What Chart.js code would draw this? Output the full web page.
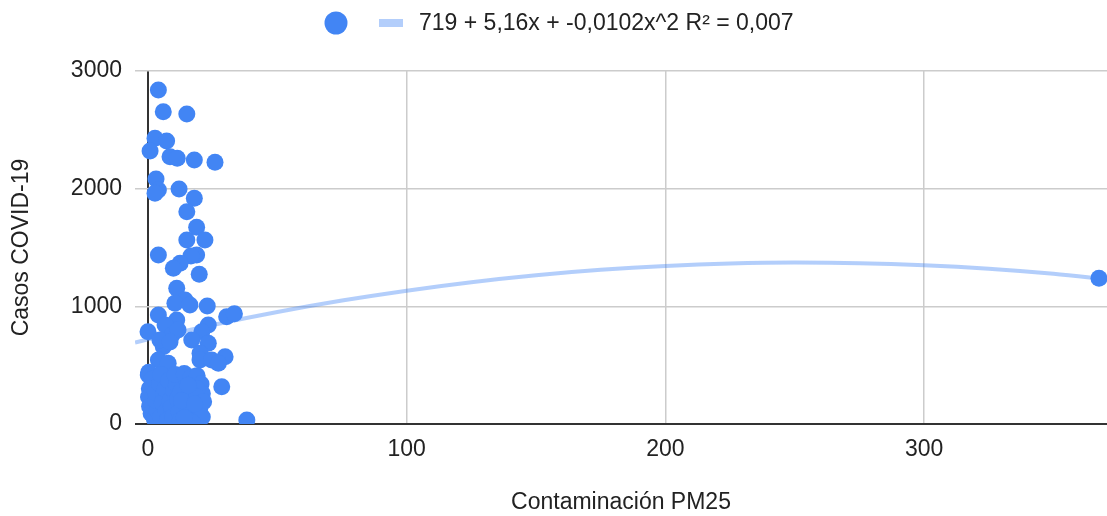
<!DOCTYPE html>
<html>
<head>
<meta charset="utf-8">
<script src="https://cdn.jsdelivr.net/npm/chart.js@4"></script>
<style>
  html, body { margin: 0; padding: 0; background: #fff; }
  #wrap { width: 1107px; height: 516px; }
</style>
</head>
<body>
<div id="wrap"><canvas id="myChart" width="1107" height="516"></canvas></div>
<script>
// PM2.5 vs COVID-19 cases
const pm25 = [
  4.0, 5.9, 15.0, 2.7, 7.2, 0.8, 8.5, 11.3, 17.9, 25.9,
  3.1, 4.0, 2.7, 12.0, 17.9, 15.0, 18.8, 15.0, 22.0, 4.0,
  18.8, 16.6, 12.4, 9.8, 19.8, 11.1, 14.3, 10.4, 16.2, 22.9,
  4.0, 11.1, 30.4, 33.4, 0, 23.3, 20.8, 16.9, 23.3, 5.9,
  4.0, 7.8, 20.1, 20.1, 24.6, 29.8, 27.2, 0.1, 5.9, 17.5,
  13.6, 28.5, 38.2, 6.6, 9.3, 4.6, 11.6, 8.5,
  0.3, 1.5, 0.5, 0.2, 0.6, 1.2, 2.5, 3.5, 3.0, 2.8,
  4.5, 5.0, 6.0, 5.5, 5.0, 7.0, 6.5, 8.0, 8.5, 7.5,
  9.0, 9.5, 10.0, 11.0, 11.5, 12.0, 12.5, 10.5,
  14.0, 16.5, 19.0, 20.5, 21.0, 19.0, 18.5, 15.0, 12.5, 16.0,
  18.5, 20.0, 21.5, 21.0, 17.0, 14.0, 13.0, 18.0, 15.5,
  367.6
];
const casos = [
  2838, 2654, 2634, 2428, 2405, 2320, 2272, 2258, 2244, 2224,
  2082, 1989, 1961, 1997, 1918, 1804, 1672, 1564, 1564, 1436,
  1436, 1428, 1366, 1323, 1272, 1153, 1054, 1026, 1011, 1003,
  926, 884, 912, 937, 784, 841, 784, 714, 686, 657,
  544, 516, 601, 544, 544, 572, 516, 416, 402, 402,
  359, 317, 34, 841, 756, 714, 799, 697,
  440, 380, 300, 230, 150, 90, 40, 120, 200, 270,
  340, 420, 250, 180, 60, 110, 300, 370, 200, 30,
  140, 60, 280, 340, 210, 100, 30, 420,
  430, 390, 410, 340, 260, 300, 235, 160, 270, 90,
  40, 130, 190, 60, 15, 50, 200, 170, 330,
  1238
];

// trendline values
const trendX = [-5, 0, 25, 50, 75, 100, 125, 150, 175, 200, 225, 250, 275, 300, 325, 350, 371];
const trendY = [693, 719, 842, 952, 1049, 1133, 1205, 1264, 1310, 1343, 1364, 1372, 1367, 1349, 1319, 1276, 1229];

const xTicks = [0, 100, 200, 300];
const yTicks = [0, 1000, 2000, 3000];
const trendLabel = "719 + 5,16x + -0,0102x^2 R\u00B2 = 0,007";

const blue = "#4285F4";
const blueLight = "rgba(66, 133, 244, 0.4)";
const textColor = "#222";
const fontFamily = "Arial, 'Liberation Sans', sans-serif";
const fontSize = 23;

const points = pm25.map((x, i) => ({ x, y: casos[i] }));
const trend = trendX.map((x, i) => ({ x, y: trendY[i] }));

// draws the top legend (circle, swatch, equation)
const topLegend = {
  id: "topLegend",
  afterDraw(chart) {
    const c = chart.ctx;
    const cy = 23;
    c.save();
    c.fillStyle = blue;
    c.beginPath();
    c.arc(336, cy, 11.5, 0, Math.PI * 2);
    c.fill();
    c.fillStyle = blueLight;
    c.fillRect(379, cy - 4, 24, 8);
    c.fillStyle = textColor;
    c.font = fontSize + "px " + fontFamily;
    c.textBaseline = "middle";
    c.textAlign = "left";
    c.fillText(trendLabel, 419, cy + 1);
    c.restore();
  },
};

const gridColor = (ctx) => (ctx.tick && ctx.tick.value === 0 ? "#333" : "#ccc");
const gridWidth = (ctx) => (ctx.tick && ctx.tick.value === 0 ? 2 : 1.5);

const ctx = document.getElementById("myChart");
const myChart = new Chart(ctx, {
  type: "scatter",
  data: {
    datasets: [
      {
        label: "",
        data: points,
        backgroundColor: blue,
        borderColor: blue,
        pointRadius: 8.5,
        pointHoverRadius: 8.5,
        borderWidth: 0,
        clip: 0,
        order: 0,
      },
      {
        type: "line",
        label: trendLabel,
        data: trend,
        borderColor: blueLight,
        borderWidth: 4,
        pointRadius: 0,
        fill: false,
        cubicInterpolationMode: "monotone",
        order: 1,
      },
    ],
  },
  options: {
    responsive: false,
    animation: false,
    layout: { autoPadding: false, padding: { top: 71, left: 0, right: 0, bottom: 0 } },
    plugins: {
      legend: { display: false },
      tooltip: { enabled: false },
    },
    scales: {
      x: {
        type: "linear",
        min: -5.03,
        max: 370.7,
        afterBuildTicks: (s) => { s.ticks = xTicks.map((v) => ({ value: v })); },
        afterFit: (s) => { s.height = 92; },
        border: { display: false },
        grid: { color: gridColor, lineWidth: gridWidth, drawTicks: false },
        ticks: {
          padding: 12,
          color: textColor,
          font: { size: fontSize, family: fontFamily },
          maxRotation: 0,
          callback: (v) => String(v),
        },
        title: {
          display: true,
          text: "Contaminación PM25",
          color: textColor,
          font: { size: fontSize, family: fontFamily },
          padding: { top: 0, bottom: 0 },
        },
      },
      y: {
        type: "linear",
        min: 0,
        max: 3000,
        afterBuildTicks: (s) => { s.ticks = yTicks.map((v) => ({ value: v })); },
        afterFit: (s) => { s.width = 135; },
        border: { display: false },
        grid: { color: gridColor, lineWidth: gridWidth, drawTicks: false },
        ticks: {
          padding: 13,
          color: textColor,
          font: { size: fontSize, family: fontFamily },
          callback: (v) => String(v),
        },
        title: {
          display: true,
          text: "Casos COVID-19",
          color: textColor,
          font: { size: fontSize, family: fontFamily },
          padding: { top: 8, bottom: 0 },
        },
      },
    },
  },
  plugins: [topLegend],
});
</script>
</body>
</html>
